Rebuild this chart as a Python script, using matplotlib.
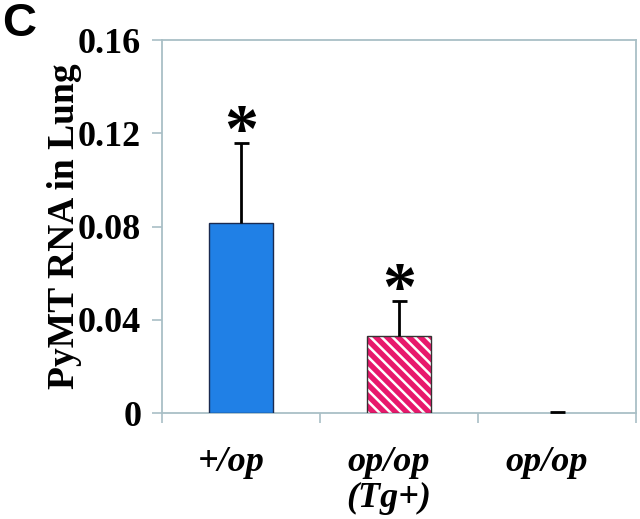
import matplotlib
matplotlib.use("Agg")
import matplotlib.pyplot as plt
import matplotlib.transforms as mtransforms
import numpy as np

categories = ["+/op", "op/op\n(Tg+)", "op/op"]
values = [0.0815, 0.0330, 0.0002]
errors = [0.0343, 0.0150, 0.0002]
significant = [True, True, False]
yticks = [0, 0.04, 0.08, 0.12, 0.16]
yticklabels = ["0", "0.04", "0.08", "0.12", "0.16"]

blue = "#2080E6"
pink = "#E8186C"
spine_col = "#A9BFC6"

plt.rcParams["hatch.linewidth"] = 1.8

fig = plt.figure(figsize=(6.4, 5.19), dpi=100)
ax = fig.add_axes([0.2531, 0.2042, 0.9937 - 0.2531, 0.9229 - 0.2042])

x = np.arange(len(categories))
w = 0.41

# bar 1: solid blue
ax.bar(x[0], values[0], width=w, color=blue, edgecolor="#1a2a50", linewidth=1.0, zorder=3)
# bar 2: pink with white diagonal stripes
ax.bar(x[1], values[1], width=w, color=pink, edgecolor="white", hatch="\\\\\\", linewidth=0, zorder=3)
ax.bar(x[1], values[1], width=w, fill=False, edgecolor="#333333", linewidth=1.0, zorder=4)
# bar 3: (near zero)
ax.bar(x[2], values[2], width=w, color="white", edgecolor="none", linewidth=0, zorder=3)

# upper error bars only
eb = ax.errorbar(x, values, yerr=[np.zeros(len(values)), errors], fmt="none",
                 ecolor="black", elinewidth=2.0, capsize=5.4, capthick=2.0, zorder=5)
for cap in eb[1]:
    yd = np.asarray(cap.get_ydata(), dtype=float)
    if np.allclose(yd, values):
        cap.set_visible(False)

serif = "Liberation Serif"
for xi, v, e, s in zip(x, values, errors, significant):
    if s:
        ax.annotate("*", xy=(xi, v + e), xytext=(0, -15), textcoords="offset points",
                    ha="center", va="bottom", fontsize=49, fontweight="bold",
                    family=serif, color="black", zorder=6)

ax.set_xlim(-0.5, 2.5)
ax.set_ylim(0, 0.16)
ax.set_yticks(yticks)
ax.set_yticklabels(yticklabels, family=serif, fontweight="bold", fontsize=26)
ax.set_xticks(x)
ax.set_xticklabels(categories, family=serif, fontweight="bold", fontstyle="italic",
                   fontsize=26, linespacing=1.1)
ax.set_xticks([-0.5, 0.5, 1.5, 2.5], minor=True)
ax.tick_params(axis="x", which="major", length=0, pad=24)
ax.tick_params(axis="x", which="minor", length=7, direction="out", color=spine_col, width=1.2)
ax.tick_params(axis="y", which="major", length=7, direction="out", color=spine_col, width=1.2, pad=8)

shift = mtransforms.ScaledTranslation(-10 / 100, 0, fig.dpi_scale_trans)
for lab in ax.get_xticklabels():
    lab.set_transform(lab.get_transform() + shift)

for sp in ax.spines.values():
    sp.set_color(spine_col)
    sp.set_linewidth(1.3)

ax.set_ylabel("PyMT RNA in Lung", family=serif, fontweight="bold", fontsize=27, labelpad=-3)

fig.text(0.004, 0.997, "C", family="Liberation Sans", fontweight="bold", fontsize=34,
         ha="left", va="top")

fig.savefig("out.png", dpi=100)
